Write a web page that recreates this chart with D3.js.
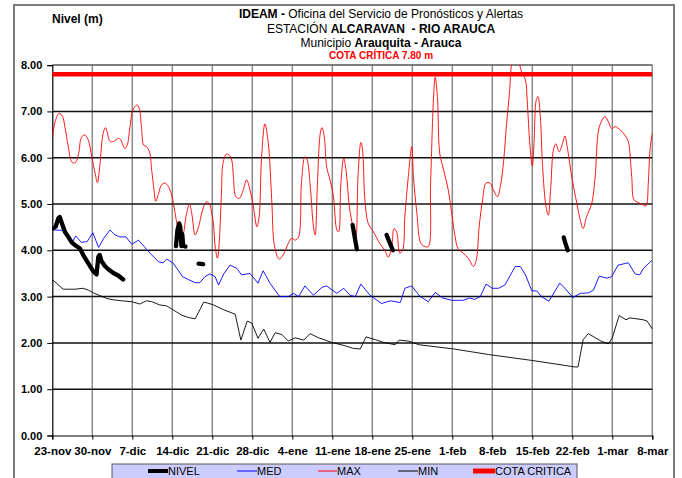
<!DOCTYPE html>
<html><head><meta charset="utf-8">
<script src="https://cdn.jsdelivr.net/npm/d3@7"></script>
<style>
html,body{margin:0;padding:0;background:#fff;}
svg text{font-family:"Liberation Sans",Arial,sans-serif;}
</style></head>
<body>
<svg id="chart" width="682" height="478"></svg>
<script>
// ---------- DATA (day offset from 23-nov, level in m) ----------
const xTickLabels = ["23-nov","30-nov","7-dic","14-dic","21-dic","28-dic","4-ene","11-ene","18-ene","25-ene","1-feb","8-feb","15-feb","22-feb","1-mar","8-mar"];
const yTickValues = [0,1,2,3,4,5,6,7,8];
const cotaCritica = 7.80;

const maxSeries = [[0,6.42],[0.5,6.78],[1.2,6.96],[1.8,6.89],[2.2,6.67],[2.8,6.24],[3.4,5.91],[4.0,5.89],[4.6,6.09],[5.1,6.44],[5.7,6.49],[6.3,6.38],[6.9,6.02],[7.5,5.66],[7.9,5.46],[8.3,5.81],[8.9,6.53],[9.3,6.65],[9.6,6.56],[10.1,6.35],[10.7,6.35],[11.6,6.42],[12.0,6.38],[12.7,6.2],[13.1,6.27],[13.6,6.67],[14.1,7.03],[14.8,7.14],[15.2,7.07],[15.6,6.67],[16.0,6.27],[16.5,6.24],[17.0,6.13],[17.4,5.73],[17.8,5.3],[18.1,5.06],[18.6,5.23],[19.1,5.41],[19.7,5.45],[20.3,5.38],[20.9,5.19],[21.3,4.94],[21.8,4.58],[22.2,4.37],[22.8,4.35],[23.4,4.73],[24.0,5.0],[24.4,4.8],[25.0,4.33],[25.6,4.51],[26.3,4.87],[27.0,5.05],[27.5,5.0],[27.9,4.8],[28.2,4.58],[28.5,4.08],[28.9,3.83],[29.2,4.15],[29.6,5.23],[29.9,5.9],[30.5,6.08],[31.0,6.05],[31.4,5.95],[31.7,5.59],[32.1,5.16],[32.7,5.12],[33.4,5.3],[34.0,5.52],[34.6,5.3],[35.2,4.94],[35.8,4.51],[36.2,4.73],[36.6,5.95],[37.2,6.73],[37.8,6.31],[38.4,5.09],[38.9,4.08],[39.7,3.81],[40.4,3.9],[41.3,4.15],[41.9,4.26],[42.5,4.22],[43.1,4.29],[43.6,5.45],[44.2,6.02],[44.6,5.95],[45.1,5.45],[45.7,4.51],[46.0,4.33],[46.4,5.45],[46.9,6.53],[47.2,6.65],[47.6,6.45],[48.0,5.81],[48.6,5.52],[49.2,5.16],[49.8,4.44],[50.1,4.4],[50.5,5.45],[51.0,5.99],[51.4,5.73],[52.0,4.94],[52.6,4.51],[53.1,4.29],[53.5,5.59],[54.0,6.33],[54.3,6.17],[54.7,5.09],[55.3,4.58],[56.2,4.4],[57.3,4.15],[58.2,4.0],[58.8,3.85],[59.4,4.08],[59.8,4.47],[60.3,4.38],[60.8,3.94],[61.3,4.0],[61.7,4.73],[62.3,5.59],[62.9,6.24],[63.2,5.59],[63.8,4.8],[64.5,4.15],[65.2,4.08],[65.8,4.08],[66.2,5.45],[66.7,7.25],[67.0,7.74],[67.4,7.32],[67.8,6.1],[68.5,5.73],[69.3,5.3],[69.9,4.8],[70.5,4.29],[71.0,4.04],[71.9,3.94],[72.8,3.83],[73.7,3.65],[74.2,3.79],[74.7,4.51],[75.3,5.09],[75.9,5.45],[76.6,5.45],[77.2,5.3],[77.9,5.16],[78.5,5.45],[79.0,5.95],[79.5,6.74],[80.0,7.39],[80.4,8.05],[81.0,8.3],[81.7,8.05],[82.2,7.82],[82.8,7.68],[83.1,7.25],[83.6,6.24],[84.0,5.82],[84.3,6.31],[84.7,7.25],[85.0,7.32],[85.4,6.89],[85.8,5.81],[86.4,4.94],[86.8,4.76],[87.2,5.3],[87.7,6.17],[88.1,6.3],[88.7,6.13],[89.3,6.31],[89.7,6.47],[90.1,6.24],[90.9,5.59],[91.8,5.01],[92.4,4.65],[92.9,4.47],[93.5,4.73],[94.4,5.01],[95.0,5.59],[95.6,6.6],[96.2,6.81],[96.7,6.89],[97.3,6.78],[97.9,6.63],[98.5,6.67],[99.4,6.6],[100.3,6.47],[100.8,6.35],[101.4,5.59],[101.8,5.09],[102.6,5.03],[103.4,4.98],[103.9,4.96],[104.3,5.45],[104.6,6.17],[105,6.53]];

const medSeries = [[0,4.44],[1.9,4.43],[2.8,4.26],[3.4,4.15],[4.1,4.31],[5.1,4.17],[6.1,4.19],[7.1,4.38],[8.1,4.06],[9.0,4.26],[10.1,4.44],[11.0,4.33],[11.8,4.29],[12.9,4.29],[13.9,4.13],[15.1,4.22],[16.5,4.02],[17.4,3.9],[18.6,3.75],[19.4,3.73],[20.0,3.81],[21.1,3.73],[21.8,3.61],[22.8,3.43],[23.8,3.37],[25.0,3.3],[25.8,3.3],[26.7,3.43],[27.6,3.49],[28.5,3.43],[29.1,3.25],[30.0,3.49],[31.1,3.68],[32.3,3.61],[33.1,3.47],[34.6,3.5],[36.0,3.29],[36.9,3.56],[38.1,3.29],[39.8,3.0],[41.3,3.0],[42.2,3.07],[43.1,3.0],[44.2,3.23],[45.7,3.03],[47.2,3.2],[48.0,3.23],[49.8,3.07],[51.0,3.18],[52.1,3.03],[53.0,3.0],[54.0,3.27],[55.6,3.03],[57.6,2.85],[59.2,2.91],[60.9,2.87],[61.7,3.18],[62.9,3.23],[64.3,3.01],[65.8,2.89],[67.0,3.09],[68.3,2.97],[69.9,2.92],[71.9,2.92],[73.0,2.97],[73.9,2.94],[74.9,3.0],[75.9,3.27],[77.0,3.18],[78.1,3.18],[79.2,3.25],[81.0,3.65],[81.9,3.65],[82.8,3.47],[83.9,3.13],[84.8,3.12],[85.6,3.0],[86.9,2.9],[88.8,3.29],[89.7,3.18],[91.1,2.98],[92.4,3.07],[93.8,3.08],[94.7,3.14],[95.7,3.44],[97.0,3.4],[97.9,3.43],[99.0,3.68],[100.8,3.73],[102.0,3.49],[102.8,3.47],[103.4,3.6],[104.9,3.78]];

const minSeries = [[0,3.37],[1.9,3.16],[4.0,3.16],[5.4,3.18],[6.3,3.14],[7.2,3.08],[9.5,2.96],[10.7,2.93],[12.1,2.91],[13.9,2.89],[15.3,2.84],[16.5,2.91],[17.4,2.89],[18.8,2.82],[20.0,2.8],[21.2,2.71],[22.6,2.6],[23.8,2.55],[25.0,2.52],[26.5,2.88],[27.2,2.86],[28.2,2.82],[29.9,2.72],[32.0,2.62],[33.0,2.06],[34.1,2.47],[34.9,2.43],[36.0,2.1],[37.0,2.3],[38.1,2.01],[39.0,2.22],[40.2,2.18],[41.3,2.04],[42.5,2.11],[44.0,2.06],[45.1,2.2],[46.6,2.11],[48.9,2.01],[51.2,1.94],[52.7,1.88],[53.9,1.87],[54.9,2.13],[56.5,2.07],[58.0,2.01],[60.0,1.96],[60.7,2.06],[62.3,2.04],[64.2,1.96],[70.2,1.87],[76.3,1.75],[84.0,1.62],[91.5,1.48],[92.0,1.48],[92.9,2.07],[93.8,2.2],[96.0,2.04],[97.3,1.98],[98.0,2.11],[99.2,2.59],[100.4,2.5],[101.1,2.54],[103.4,2.5],[104.1,2.47],[105,2.3]];

const nivelSegments = [
  [[0,4.47],[0.6,4.51],[1.05,4.69],[1.3,4.72],[1.8,4.54],[2.2,4.4],[2.8,4.29],[3.4,4.17],[4.0,4.11],[4.85,4.04],[5.4,3.9],[6.3,3.72],[7.2,3.54],[7.75,3.48],[8.05,3.86],[8.3,3.9],[8.6,3.77],[9.2,3.66],[9.8,3.59],[10.7,3.51],[11.6,3.45],[12.4,3.37]],
  [[21.65,4.09],[21.9,4.44],[22.2,4.58],[22.4,4.51],[22.5,4.29],[22.6,4.09],[22.75,4.35],[22.9,4.1],[23.3,4.08]],
  [[25.6,3.71],[26.4,3.70]],
  [[52.55,4.55],[52.9,4.3],[53.3,4.02]],
  [[58.5,4.33],[59.1,4.15],[59.6,4.0]],
  [[89.5,4.28],[89.8,4.15],[90.2,4.0]]
];

const legendNames = ["NIVEL","MED","MAX","MIN","COTA CRITICA"];
const legendColors = ["#000000","#0000ff","#ff0000","#000000","#ff0000"];
const legendWidths = [4,1,1,1,5];

// ---------- LAYOUT ----------
const svg = d3.select("#chart");
const x = d3.scaleLinear().domain([0,105]).range([52.3,652.3]);
const y = d3.scaleLinear().domain([0,8]).range([435.5,65.1]);

// outer frame
svg.append("path").attr("d","M14,480 V5 H674 V480").attr("fill","none").attr("stroke","#7a7a7a").attr("stroke-width",2);

svg.append("defs").append("clipPath").attr("id","plotclip").append("rect")
  .attr("x",x(0)).attr("y",y(8)).attr("width",x(105)-x(0)).attr("height",y(0)-y(8));

// vertical gridlines
svg.append("g").selectAll("line").data(d3.range(7,106,7)).join("line")
  .attr("x1",d=>x(d)).attr("x2",d=>x(d)).attr("y1",y(8)).attr("y2",y(0))
  .attr("stroke","#8c8c8c").attr("stroke-width",1.5);

// horizontal gridlines
svg.append("g").selectAll("line").data(yTickValues.filter(v=>v>0)).join("line")
  .attr("x1",x(0)).attr("x2",x(105)).attr("y1",d=>y(d)).attr("y2",d=>y(d))
  .attr("stroke",d=>d===8?"#555":"#111").attr("stroke-width",1.5);

// axes
const xAxis = svg.append("g").attr("transform",`translate(0,${y(0)})`)
  .call(d3.axisBottom(x).tickValues(d3.range(0,106,7)).tickFormat((d,i)=>xTickLabels[i]).tickSize(4).tickPadding(7));
xAxis.select(".domain").attr("stroke","#000").attr("stroke-width",1.2);
xAxis.selectAll(".tick line").attr("stroke","#000");
xAxis.selectAll("text").attr("font-size",11.5).attr("font-weight","bold").attr("fill","#000")
  .attr("font-family","Liberation Sans, Arial, sans-serif");

const yAxis = svg.append("g").attr("transform",`translate(${x(0)},0)`)
  .call(d3.axisLeft(y).tickValues(yTickValues).tickFormat(d3.format(".2f")).tickSize(5).tickPadding(5));
yAxis.select(".domain").attr("stroke","#000").attr("stroke-width",1.2);
yAxis.selectAll(".tick line").attr("stroke","#000");
yAxis.selectAll("text").attr("font-size",11).attr("font-weight","bold").attr("fill","#000")
  .attr("font-family","Liberation Sans, Arial, sans-serif");

// series
const plot = svg.append("g").attr("clip-path","url(#plotclip)");
const line = d3.line().x(d=>x(d[0])).y(d=>y(d[1]));
const smooth = d3.line().x(d=>x(d[0])).y(d=>y(d[1])).curve(d3.curveCatmullRom.alpha(0.5));

plot.append("line").attr("x1",x(0)).attr("x2",x(105)).attr("y1",y(cotaCritica)).attr("y2",y(cotaCritica))
  .attr("stroke","#ff0000").attr("stroke-width",4.5);
plot.append("path").datum(minSeries).attr("d",line).attr("fill","none").attr("stroke","#000").attr("stroke-width",0.9);
plot.append("path").datum(medSeries).attr("d",line).attr("fill","none").attr("stroke","#0000ff").attr("stroke-width",0.9);
plot.append("path").datum(maxSeries).attr("d",smooth).attr("fill","none").attr("stroke","#ff0000").attr("stroke-width",0.9);
plot.selectAll(".nivel").data(nivelSegments).join("path").attr("class","nivel")
  .attr("d",line).attr("fill","none").attr("stroke","#000").attr("stroke-width",4.3)
  .attr("stroke-linejoin","round").attr("stroke-linecap","round");

// titles
const tcx = 381;
const t1 = svg.append("text").attr("x",tcx).attr("y",18).attr("text-anchor","middle").attr("font-size",12);
t1.append("tspan").attr("font-weight","bold").text("IDEAM - ");
t1.append("tspan").text("Oficina del Servicio de Pronósticos y Alertas");
const t2 = svg.append("text").attr("x",tcx).attr("y",33).attr("text-anchor","middle").attr("font-size",12).attr("xml:space","preserve");
t2.append("tspan").text("ESTACIÓN ");
t2.append("tspan").attr("font-weight","bold").text("ALCARAVAN  - RIO ARAUCA");
const t3 = svg.append("text").attr("x",tcx).attr("y",47).attr("text-anchor","middle").attr("font-size",12);
t3.append("tspan").text("Municipio ");
t3.append("tspan").attr("font-weight","bold").text("Arauquita - Arauca");
svg.append("text").attr("x",tcx).attr("y",59).attr("text-anchor","middle").attr("font-size",10)
  .attr("font-weight","bold").attr("fill","#ff0000").text("COTA CRÍTICA 7.80 m");
svg.append("text").attr("x",52).attr("y",23).attr("font-size",12).attr("font-weight","bold").text("Nivel (m)");

// legend
const lg = svg.append("g");
lg.append("rect").attr("x",112).attr("y",464).attr("width",465).attr("height",20)
  .attr("fill","#ccccff").attr("stroke","#555").attr("stroke-width",1);
const legendX = [148,237,318,398,473];
const legendLen = [20,20,19,20,22];
legendNames.forEach((n,i)=>{
  lg.append("line").attr("x1",legendX[i]).attr("x2",legendX[i]+legendLen[i]).attr("y1",471).attr("y2",471)
    .attr("stroke",legendColors[i]).attr("stroke-width",legendWidths[i]);
  lg.append("text").attr("x",legendX[i]+legendLen[i]).attr("y",475).attr("font-size",11).text(n);
});
</script>
</body></html>
